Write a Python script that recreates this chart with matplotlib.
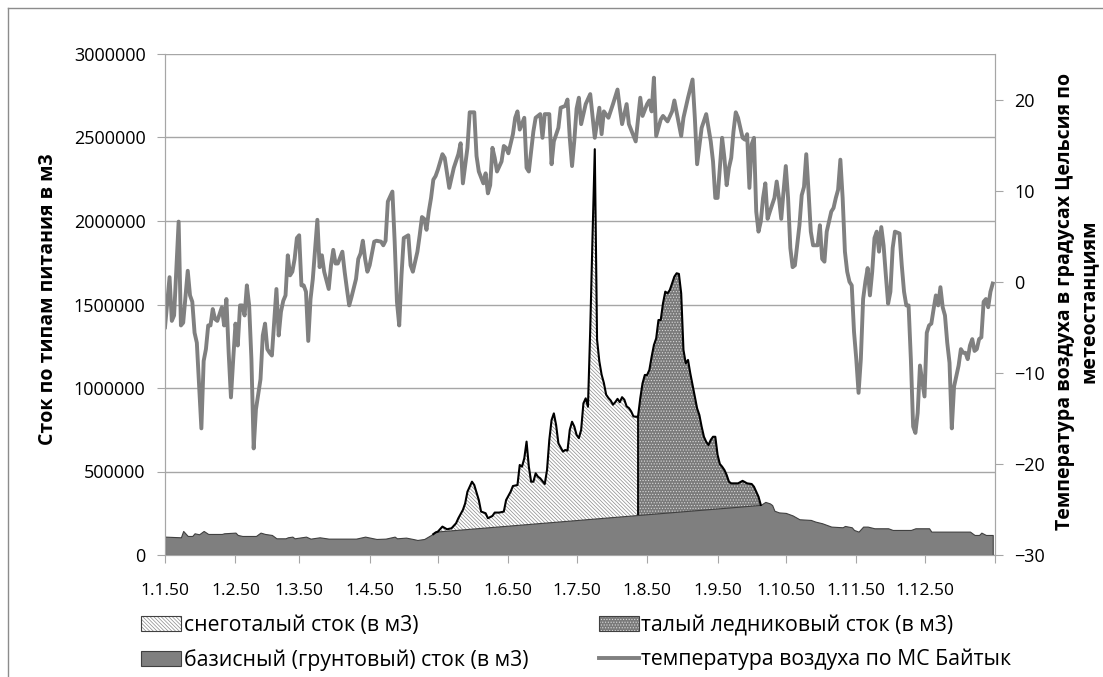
import matplotlib.pyplot as plt
from matplotlib.patches import Patch
from matplotlib.lines import Line2D

plt.rcParams['font.family'] = ['Open Sans', 'DejaVu Sans']
plt.rcParams['hatch.linewidth'] = 0.5

# x axis: days of 1950, labels at month starts
month_days = [0, 31, 59, 90, 120, 151, 181, 212, 243, 273, 304, 334]
month_labels = ['1.1.50', '1.2.50', '1.3.50', '1.4.50', '1.5.50', '1.6.50',
                '1.7.50', '1.8.50', '1.9.50', '1.10.50', '1.11.50', '1.12.50']

# air temperature, MS Baityk (deg C)
temp_day = [0, 2, 3, 4, 6, 7, 8, 10, 11, 12, 13, 14, 16, 17, 18, 19, 20, 21, 22, 23,
            25, 26, 27, 28, 29, 30, 31, 32, 33, 34, 35, 36, 37, 38, 39, 40, 42, 43, 44, 45,
            46, 47, 49, 50, 51, 52, 53, 54, 55, 56, 57, 58, 59, 60, 61, 62, 63, 64, 65, 67,
            68, 69, 70, 72, 73, 74, 75, 76, 78, 79, 80, 81, 82, 84, 85, 86, 87, 88, 89, 90,
            92, 93, 95, 96, 97, 98, 100, 101, 102, 103, 104, 105, 107, 108, 109, 111, 112, 113, 114, 115,
            116, 117, 118, 119, 120, 122, 123, 125, 127, 129, 130, 131, 133, 134, 136, 137, 138, 140, 141, 142,
            143, 144, 145, 146, 148, 149, 150, 151, 153, 154, 155, 156, 158, 159, 160, 162, 163, 165, 166, 167,
            169, 170, 171, 173, 174, 176, 177, 178, 179, 180, 181, 182, 183, 185, 187, 189, 191, 192, 193, 195,
            197, 199, 200, 201, 203, 204, 207, 209, 210, 212, 213, 214, 215, 216, 218, 219, 221, 223, 224, 226,
            227, 228, 230, 232, 233, 234, 236, 238, 240, 241, 242, 243, 245, 246, 247, 248, 249, 250, 251, 252,
            254, 255, 256, 257, 258, 259, 260, 261, 262, 263, 264, 265, 266, 268, 269, 270, 271, 272, 273, 274,
            275, 276, 277, 279, 280, 281, 282, 283, 284, 285, 287, 288, 289, 290, 291, 292, 293, 294, 295, 296,
            297, 298, 299, 300, 301, 302, 303, 304, 305, 306, 307, 308, 309, 310, 311, 312, 313, 314, 315, 316,
            317, 318, 319, 320, 321, 323, 324, 325, 326, 327, 328, 329, 330, 331, 332, 334, 335, 336, 337, 338,
            339, 340, 341, 342, 343, 344, 345, 346, 347, 349, 350, 351, 352, 353, 354, 355, 356, 357, 358, 359,
            360, 361, 362, 363, 364]
temp_val = [-5.0, 0.5, -4.3, -3.7, 6.6, -4.8, -4.5, 1.2, -1.5, -2.2, -5.6, -6.7, -16.1, -8.7, -7.4, -4.8, -4.8, -3.0, -4.1, -4.3,
            -2.8, -4.8, -1.9, -7.8, -12.7, -8.5, -4.6, -7.0, -2.6, -2.6, -3.7, -0.4, -2.6, -8.5, -18.3, -14.0, -10.7, -5.9, -4.6, -7.4,
            -7.8, -8.1, -0.8, -5.9, -3.3, -2.1, -1.5, 2.9, 0.7, 1.1, 2.5, 4.8, 5.1, -0.4, -0.4, -1.1, -6.5, -1.9, 0.3, 6.8,
            1.6, 2.9, 1.1, -0.8, 1.8, 3.5, 2.0, 2.0, 3.3, 1.1, -0.8, -2.6, -1.7, 0.3, 2.5, 3.1, 4.5, 2.5, 1.1, 1.8,
            4.4, 4.5, 4.4, 4.0, 4.5, 8.8, 9.9, 4.4, -2.2, -4.8, 0.7, 4.8, 5.1, 1.8, 1.1, 3.3, 5.1, 7.1, 6.9, 5.7,
            7.7, 9.2, 11.2, 11.6, 12.3, 14.0, 13.6, 10.3, 12.5, 14.0, 15.2, 10.8, 14.7, 18.6, 18.6, 13.8, 12.1, 10.8, 11.9, 9.7,
            10.6, 14.7, 13.6, 12.1, 13.2, 14.9, 14.7, 14.1, 16.2, 18.0, 18.7, 16.7, 18.0, 12.5, 12.1, 16.5, 18.0, 18.4, 15.8, 18.4,
            18.4, 12.9, 15.4, 16.9, 19.1, 19.3, 20.0, 15.8, 12.7, 15.5, 19.0, 20.2, 17.3, 19.5, 20.6, 15.8, 19.1, 16.2, 18.7, 18.0,
            19.5, 21.1, 19.1, 17.3, 19.5, 17.3, 15.4, 20.2, 18.2, 19.5, 19.9, 18.7, 22.4, 16.0, 17.8, 18.2, 17.6, 18.7, 19.9, 17.3,
            16.0, 18.0, 20.2, 22.2, 18.0, 12.9, 16.9, 18.4, 15.4, 13.2, 9.2, 9.2, 15.8, 13.6, 10.6, 12.5, 13.6, 16.5, 18.6, 18.0,
            15.8, 15.6, 16.2, 10.3, 15.1, 15.8, 7.7, 5.5, 6.6, 9.2, 10.8, 6.9, 7.7, 9.2, 11.0, 9.2, 6.9, 9.9, 12.7, 9.2,
            3.7, 1.6, 1.8, 6.2, 9.5, 10.4, 14.0, 9.9, 5.5, 4.0, 4.0, 6.2, 2.5, 2.2, 5.5, 6.6, 7.7, 8.1, 9.2, 10.1,
            13.4, 9.2, 3.3, 1.1, 0.0, -0.4, -5.5, -8.5, -12.2, -8.5, -1.9, 0.0, 1.5, -1.5, 1.1, 4.8, 5.5, 3.3, 6.0, 4.0,
            0.7, -2.4, -1.1, 3.7, 5.5, 5.3, 1.8, -1.1, -2.6, -2.6, -8.5, -15.9, -16.6, -14.4, -9.2, -12.6, -5.6, -4.8, -4.6, -3.0,
            -1.5, -2.6, -0.6, -2.8, -3.7, -6.7, -8.9, -16.1, -11.5, -9.2, -7.4, -7.8, -7.8, -8.5, -7.0, -6.3, -7.6, -7.4, -6.3, -6.1,
            -2.2, -1.9, -2.8, -1.1, -0.2]

# base (ground) flow, m3
base_day = [0, 7, 8, 10, 12, 13, 15, 17, 19, 25, 26, 31, 32, 34, 40, 42, 44, 47, 49, 53,
            54, 56, 57, 62, 64, 68, 72, 79, 84, 88, 93, 97, 101, 102, 106, 109, 111, 114, 117, 119,
            262, 264, 266, 267, 268, 270, 273, 276, 279, 284, 286, 289, 293, 298, 299, 302, 303, 305, 307, 309,
            312, 318, 320, 328, 330, 336, 337, 354, 356, 358, 359, 361, 364]
base_val = [110000, 106000, 144000, 114000, 114000, 130000, 124000, 144000, 126000, 126000,
            130000, 134000, 120000, 114000, 114000, 134000, 126000, 120000, 100000, 100000,
            106000, 110000, 100000, 110000, 98000, 106000, 98000, 98000, 98000, 110000,
            96000, 98000, 110000, 100000, 104000, 96000, 90000, 96000, 120000, 140000,
            300000, 318000, 309000, 299000, 265000, 255000, 252000, 237000, 214000, 210000,
            200000, 190000, 170000, 166000, 174000, 166000, 150000, 140000, 170000, 170000,
            160000, 160000, 150000, 150000, 160000, 160000, 140000, 140000, 120000, 120000,
            134000, 120000, 120000]

# total flow while snowmelt feeds the river, m3
snow_day = [118, 119, 120, 122, 124, 126, 128, 129, 131, 132, 133, 135, 136, 138, 139, 141, 142, 144, 145, 147,
            149, 150, 152, 153, 155, 156, 157, 158, 159, 160, 161, 162, 163, 164, 165, 167, 168, 169, 170, 171,
            172, 173, 175, 176, 177, 178, 179, 180, 181, 182, 183, 184, 185, 186, 187, 188, 189, 190, 191, 192,
            193, 194, 195, 196, 197, 198, 199, 200, 201, 202, 203, 204, 205, 206, 207, 208]
snow_val = [125000, 135000, 140000, 170000, 154000, 160000, 190000, 220000, 270000, 309000,
            379000, 439000, 419000, 329000, 260000, 250000, 220000, 234000, 254000, 254000,
            260000, 329000, 379000, 413000, 419000, 539000, 529000, 579000, 679000, 529000,
            439000, 439000, 489000, 469000, 459000, 425000, 509000, 689000, 808000, 848000,
            778000, 669000, 619000, 629000, 625000, 749000, 798000, 769000, 719000, 700000,
            749000, 908000, 938000, 888000, 1350000, 1900000, 2430000, 1290000, 1160000, 1080000,
            1030000, 960000, 940000, 925000, 900000, 915000, 935000, 915000, 945000, 930000,
            890000, 880000, 860000, 830000, 828000, 828000]

# total flow while glacier melt feeds the river, m3
glacier_day = [208, 209, 210, 211, 212, 213, 214, 215, 216, 217, 218, 219, 220, 221, 222, 223, 224, 225, 226, 227,
               228, 229, 230, 231, 232, 233, 234, 235, 236, 237, 238, 239, 240, 241, 242, 243, 244, 245, 246, 247,
               248, 249, 250, 252, 254, 256, 258, 259, 260, 261, 262]
glacier_val = [828000, 938000, 1028000, 1078000, 1078000, 1108000, 1187000, 1257000, 1297000, 1407000,
               1407000, 1507000, 1577000, 1567000, 1587000, 1627000, 1667000, 1687000, 1683000, 1567000,
               1228000, 1148000, 1168000, 1088000, 1018000, 948000, 878000, 838000, 768000, 708000,
               678000, 659000, 689000, 708000, 708000, 600000, 545000, 529000, 509000, 479000,
               439000, 429000, 429000, 429000, 444000, 429000, 425000, 409000, 379000, 349000, 300000]

W, H = 1103, 677
fig = plt.figure(figsize=(W / 100, H / 100), dpi=100)
ax = fig.add_axes([165 / W, 1 - 555 / H, 830 / W, 501 / H])
ax2 = ax.twinx()

grid_c = '#a6a6a6'
snow_hatch = '\\' * 9
glac_hatch = '.' * 6

# areas
ax.fill_between(snow_day, 0, snow_val, facecolor='white', edgecolor='#8a8a8a',
                hatch=snow_hatch, linewidth=0, zorder=2)
ax.plot(snow_day, snow_val, color='black', lw=1.5, zorder=4)
ax.fill_between(glacier_day, 0, glacier_val, facecolor='#7a7a7a', edgecolor='#d8d8d8',
                hatch=glac_hatch, linewidth=0, zorder=2)
ax.plot(glacier_day, glacier_val, color='black', lw=1.5, zorder=4)
ax.vlines(glacier_day[0], 0, glacier_val[0], color='black', lw=1.3, zorder=2.5)
ax.fill_between(base_day, 0, base_val, facecolor='#7f7f7f', edgecolor='#404040',
                linewidth=0.8, zorder=3)

# temperature
ax2.plot(temp_day, temp_val, color='#808080', lw=2.8, solid_joinstyle='round')

ax.set_xlim(0, 365)
ax.set_ylim(0, 3000000)
ax.set_yticks(range(0, 3000001, 500000))
ax.set_yticklabels([str(v) for v in range(0, 3000001, 500000)])
ax.set_xticks(month_days + [365])
ax.set_xticklabels(month_labels + [''])
ax.grid(axis='y', color=grid_c, lw=1)
ax.set_axisbelow(True)

ax2.set_ylim(-30, 25)
ax2.set_yticks([-30, -20, -10, 0, 10, 20])

for a in (ax, ax2):
    a.spines['top'].set_visible(False)
    for s in ('left', 'right', 'bottom'):
        a.spines[s].set_color(grid_c)
ax.tick_params(axis='y', direction='out', length=6, color=grid_c, labelsize=13, pad=8)
ax.tick_params(axis='x', direction='out', length=6, color=grid_c, labelsize=12.5, pad=14)
ax2.tick_params(axis='y', direction='out', length=6, color=grid_c, labelsize=13, pad=8)

fig.text(48 / W, 1 - 299 / H, 'Сток по типам питания в м3', rotation=90,
         ha='center', va='center', fontsize=14, fontweight='bold')
fig.text(1077 / W, 1 - 301 / H,
         'Температура воздуха в градусах Цельсия по\nметеостанциям', rotation=90,
         ha='center', va='center', ma='center', fontsize=14, fontweight='bold',
         linespacing=1.25)

# legend
h_snow = (Patch(facecolor='white', edgecolor='#8a8a8a', hatch=snow_hatch, linewidth=0),
          Patch(facecolor='none', edgecolor='#404040', linewidth=0.8))
h_glac = (Patch(facecolor='#7a7a7a', edgecolor='#d8d8d8', hatch=glac_hatch, linewidth=0),
          Patch(facecolor='none', edgecolor='#404040', linewidth=0.8))
h_base = Patch(facecolor='#7f7f7f', edgecolor='#404040', linewidth=0.8)
h_temp = Line2D([], [], color='#808080', lw=2.8)
fig.legend([h_snow, h_base, h_glac, h_temp],
           ['снеготалый сток (в м3)', 'базисный (грунтовый) сток (в м3)',
            'талый ледниковый сток (в м3)', 'температура воздуха по МС Байтык'],
           ncol=2, loc='upper left', bbox_to_anchor=(141 / W, 1 - 615 / H),
           frameon=False, fontsize=15.3, handlelength=1.9, handleheight=0.7,
           handletextpad=0.12, columnspacing=3.3, labelspacing=0.6,
           borderpad=0, borderaxespad=0)

# chart area border
fig.add_artist(Line2D([8 / W, 8 / W], [0, 1 - 8 / H], color='#8c8c8c', lw=1))
fig.add_artist(Line2D([8 / W, 1], [1 - 8 / H, 1 - 8 / H], color='#8c8c8c', lw=1))

fig.savefig('out.png', dpi=100)
